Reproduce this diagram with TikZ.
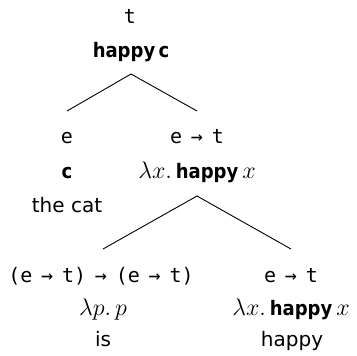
\documentclass[tikz,border=0pt]{standalone}
\usepackage{fontspec}
\setmainfont{DejaVu Sans}[BoldFeatures={FakeStretch=0.9}]
\setmonofont{DejaVu Sans Mono}
\newcommand{\lamhappy}{$\lambda x.$\,{\fontsize{10}{12}\selectfont\textbf{happy}}\,$x$}
\newcommand{\tsp}{\hspace{4.4pt}}
\newcommand{\etot}{e\tsp→\tsp t}
\begin{document}
\begin{tikzpicture}[x=0.5pt,y=-0.5pt,
  lbl/.style={anchor=base,inner sep=0pt,font=\fontsize{10}{12}\selectfont},
  ty/.style={anchor=base,inner sep=0pt,font=\fontsize{10}{12}\selectfont\ttfamily},
  mth/.style={anchor=base,inner sep=0pt,font=\fontsize{12}{14}\selectfont},
  edge/.style={line width=0.45pt}]
\path[use as bounding box] (0,0) rectangle (357,355);
% root
\node[ty] (rt) at (130,23) {t};
\node[lbl] (rs) at (131,57) {\textbf{happy}\,\textbf{c}};
\coordinate (a1) at (131,74);
\coordinate (l1) at (67,111);
\coordinate (r1) at (197,111);
\draw[edge] (l1) -- (a1) -- (r1);
% left child
\node[ty] (lt) at (67,143) {e};
\node[lbl] (ls) at (67,178) {\textbf{c}};
\node[lbl] (lw) at (67,212) {the cat};
% right child
\node[ty] (vt) at (197,143) {\etot};
\node[mth] (vs) at (197,178) {\lamhappy};
\coordinate (a2) at (197,196);
\coordinate (l2) at (103,249);
\coordinate (r2) at (291,249);
\draw[edge] (l2) -- (a2) -- (r2);
% bottom left
\node[ty] (it) at (101,282) {(\etot)\tsp→\tsp(\etot)};
\node[mth] (is) at (103,315) {$\lambda p.\,p$};
\node[lbl] (iw) at (103,346) {is};
% bottom right
\node[ty] (ht) at (291,282) {\etot};
\node[mth] (hs) at (291,315) {\lamhappy};
\node[lbl] (hw) at (292,346) {happy};
\end{tikzpicture}
\end{document}
